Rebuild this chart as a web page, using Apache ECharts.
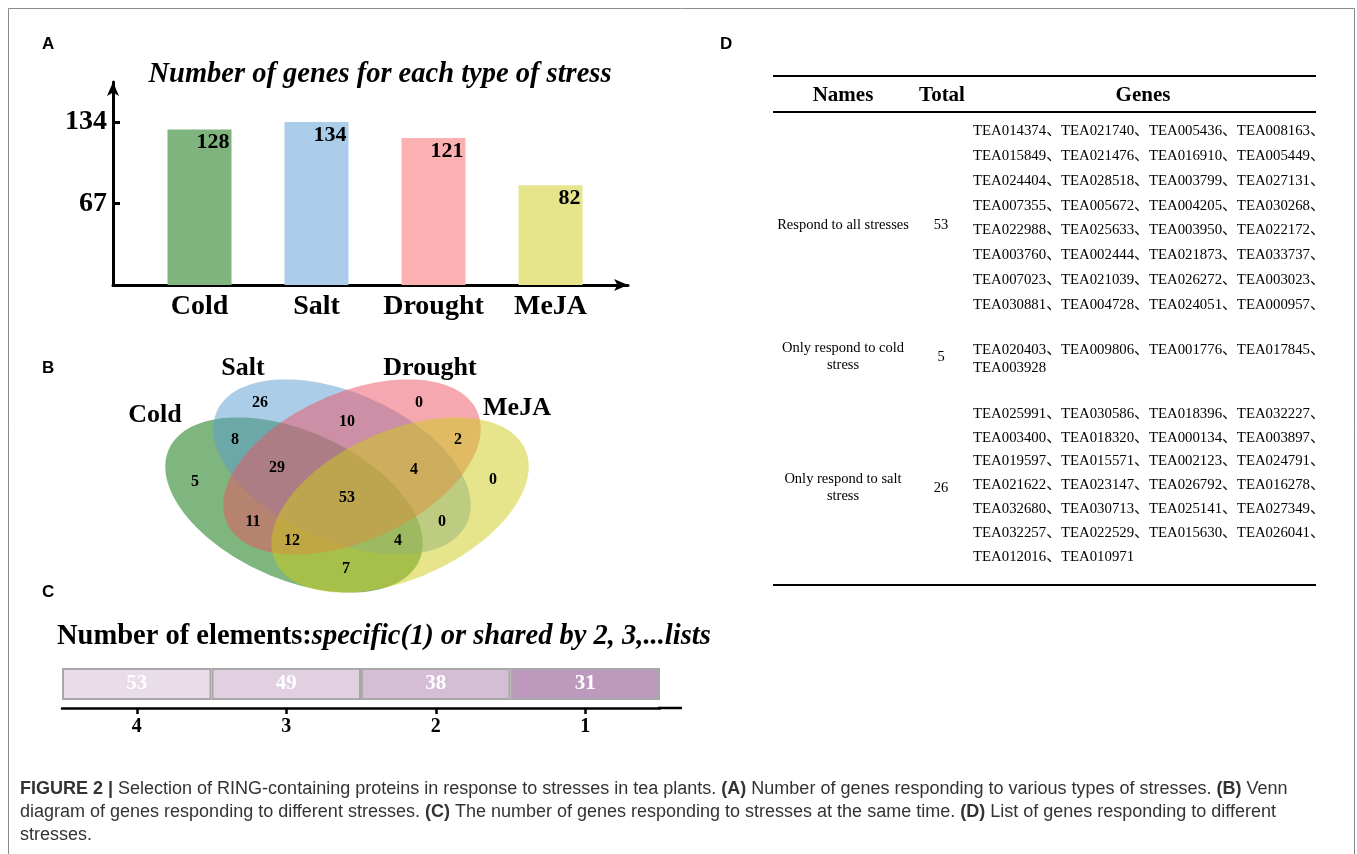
<!DOCTYPE html>
<html>
<head>
<meta charset="utf-8">
<script src="https://cdn.jsdelivr.net/npm/echarts@6/dist/echarts.min.js"></script>
<style>
  html, body { margin: 0; padding: 0; background: #fff; }
  #main { width: 1357px; height: 854px; }
</style>
</head>
<body>
<div id="main"></div>
<script>
// A: genes per stress
var stressNames = ['Cold', 'Salt', 'Drought', 'MeJA'];
var geneCounts = [128, 134, 121, 82];
var stressColors = ['#80b47e', '#abcdea', '#fdb0b1', '#e6e58b'];
var yTicks = [67, 134];

// B: venn region counts (order matches vennSpots below)
var vennLabels = ['Cold', 'Salt', 'Drought', 'MeJA'];
var vennCounts = [5, 26, 0, 0, 8, 10, 2, 29, 4, 53, 11, 0, 12, 4, 7];

// C: shared by n lists
var sharedBy = ['4', '3', '2', '1'];
var sharedCounts = [53, 49, 38, 31];
var sharedColors = ['#e9dde9', '#e0d0e0', '#d5bed5', '#bd99bd'];

// D: table
var allGenes = ['TEA014374','TEA021740','TEA005436','TEA008163','TEA015849','TEA021476','TEA016910','TEA005449',
  'TEA024404','TEA028518','TEA003799','TEA027131','TEA007355','TEA005672','TEA004205','TEA030268',
  'TEA022988','TEA025633','TEA003950','TEA022172','TEA003760','TEA002444','TEA021873','TEA033737',
  'TEA007023','TEA021039','TEA026272','TEA003023','TEA030881','TEA004728','TEA024051','TEA000957'];
var coldGenes = ['TEA020403','TEA009806','TEA001776','TEA017845','TEA003928'];
var saltGenes = ['TEA025991','TEA030586','TEA018396','TEA032227','TEA003400','TEA018320','TEA000134','TEA003897',
  'TEA019597','TEA015571','TEA002123','TEA024791','TEA021622','TEA023147','TEA026792','TEA016278',
  'TEA032680','TEA030713','TEA025141','TEA027349','TEA032257','TEA022529','TEA015630','TEA026041',
  'TEA012016','TEA010971'];
var tableRows = [
  { name: ['Respond to all stresses'], total: 53, genes: allGenes },
  { name: ['Only respond to cold', 'stress'], total: 5, genes: coldGenes },
  { name: ['Only respond to salt', 'stress'], total: 26, genes: saltGenes }
];

// layout
var SERIF = '"Liberation Serif", "Noto Sans CJK SC", serif';
var SANS = '"Liberation Sans", Arial, sans-serif';
var vennEllipses = [
  { cx: 294, cy: 505, a: 137, b: 74, deg: 24, fill: 'rgba(0,107,0,0.5)' },
  { cx: 342, cy: 467, a: 137, b: 74, deg: 24, fill: 'rgba(89,155,209,0.5)' },
  { cx: 352, cy: 467, a: 137, b: 74, deg: -24, fill: 'rgba(235,81,97,0.5)' },
  { cx: 400, cy: 505, a: 137, b: 74, deg: -24, fill: 'rgba(205,203,23,0.5)' }
];
var vennSpots = [[195,482],[260,403],[419,403],[493,480],[235,440],[347,422],[458,440],
  [277,468],[414,470],[347,498],[253,522],[442,522],[292,541],[398,541],[346,569]];
var vennLabelSpots = [[155,415],[243,368],[430,368],[517,408]];

var myChart = echarts.init(document.getElementById('main'));
var graphics = [];

function txt(x, y, text, font, extra) {
  var st = { text: text, font: font, fill: '#000', align: 'left', verticalAlign: 'middle' };
  for (var k in extra) st[k] = extra[k];
  graphics.push({ type: 'text', x: x, y: y, style: st, z: 10 });
}
function hline(x1, x2, y, w) {
  graphics.push({ type: 'line', shape: { x1: x1, y1: y, x2: x2, y2: y }, style: { stroke: '#000', lineWidth: w } });
}

// frame
graphics.push({ type: 'polyline', shape: { points: [[8.5, 854], [8.5, 8.5], [1354.5, 8.5], [1354.5, 854]] },
  style: { stroke: '#8a8a8a', lineWidth: 1, fill: null } });

// panel letters
txt(42, 44, 'A', 'bold 17px ' + SANS);
txt(42, 368, 'B', 'bold 17px ' + SANS);
txt(42, 592, 'C', 'bold 17px ' + SANS);
txt(720, 44, 'D', 'bold 17px ' + SANS);

// A title
txt(380, 75, 'Number of genes for each type of stress', 'italic bold 28.5px ' + SERIF, { align: 'center' });

// B venn
vennEllipses.forEach(function (e) {
  var pts = [], th = e.deg * Math.PI / 180;
  for (var i = 0; i < 120; i++) {
    var t = i / 120 * Math.PI * 2;
    pts.push([e.cx + e.a * Math.cos(t) * Math.cos(th) - e.b * Math.sin(t) * Math.sin(th),
              e.cy + e.a * Math.cos(t) * Math.sin(th) + e.b * Math.sin(t) * Math.cos(th)]);
  }
  graphics.push({ type: 'polygon', shape: { points: pts }, style: { fill: e.fill } });
});
vennCounts.forEach(function (v, i) {
  txt(vennSpots[i][0], vennSpots[i][1], String(v), 'bold 16px ' + SERIF, { align: 'center' });
});
vennLabels.forEach(function (s, i) {
  txt(vennLabelSpots[i][0], vennLabelSpots[i][1], s, 'bold 26px ' + SERIF, { align: 'center' });
});

// C title + axis line tail
txt(57, 637, '{n|Number of elements:}{i|specific(1) or shared by 2, 3,...lists}', 'bold 28.5px ' + SERIF, {
  rich: {
    n: { fontFamily: SERIF, fontWeight: 'bold', fontSize: 28.5, fill: '#000' },
    i: { fontFamily: SERIF, fontWeight: 'bold', fontStyle: 'italic', fontSize: 28.5, fill: '#000' }
  }
});
hline(658, 682, 708, 2.5);

// D table
hline(773, 1316, 76, 2);
hline(773, 1316, 112, 2);
hline(773, 1316, 585, 2);
txt(843, 96, 'Names', 'bold 21px ' + SERIF, { align: 'center' });
txt(942, 96, 'Total', 'bold 21px ' + SERIF, { align: 'center' });
txt(1143, 96, 'Genes', 'bold 21px ' + SERIF, { align: 'center' });

var rowStart = [131, 350, 414];
var rowGap = [24.9, 18, 23.8];
var rowMid = [225, 357, 488];
tableRows.forEach(function (r, ri) {
  var lines = [];
  for (var i = 0; i < r.genes.length; i += 4) {
    var chunk = r.genes.slice(i, i + 4).map(function (g, j) {
      var last = (i + j === r.genes.length - 1) && r.genes.length === r.total;
      return g + (last ? '' : '、');
    });
    lines.push(chunk.join(''));
  }
  lines.forEach(function (l, li) {
    txt(973, rowStart[ri] + li * rowGap[ri], l, '14.8px ' + SERIF);
  });
  var mid = rowMid[ri];
  txt(941, mid, String(r.total), '14.5px ' + SERIF, { align: 'center' });
  r.name.forEach(function (n, ni) {
    txt(843, mid - (r.name.length - 1) * 8.5 + ni * 17, n, '14.5px ' + SERIF, { align: 'center' });
  });
});

// caption
var capRich = { b: { fontFamily: SANS, fontWeight: 'bold', fontSize: 18, fill: '#333' } };
var caption = [
  '{b|FIGURE 2 |} Selection of RING-containing proteins in response to stresses in tea plants. {b|(A)} Number of genes responding to various types of stresses. {b|(B)} Venn',
  'diagram of genes responding to different stresses. {b|(C)} The number of genes responding to stresses at the same time. {b|(D)} List of genes responding to different',
  'stresses.'
];
caption.forEach(function (c, i) {
  txt(20, 789 + i * 23, c, '18px ' + SANS, { fill: '#333', rich: capRich });
});

var option = {
  animation: false,
  backgroundColor: '#fff',
  grid: [
    { left: 113, top: 82, width: 515, height: 203 },
    { left: 141, top: 82, width: 468, height: 203 },
    { left: 62, top: 669, width: 598, height: 30 }
  ],
  xAxis: [
    { gridIndex: 0, type: 'category', data: stressNames,
      axisLine: { lineStyle: { color: '#000', width: 3 }, symbol: ['none', 'arrow'], symbolSize: [9, 14] },
      axisTick: { show: false }, axisLabel: { show: false } },
    { gridIndex: 1, type: 'category', data: stressNames,
      axisLine: { show: false }, axisTick: { show: false },
      axisLabel: { interval: 0, fontFamily: SERIF, fontWeight: 'bold', fontSize: 28, color: '#000', margin: 8 } },
    { gridIndex: 2, type: 'category', data: sharedBy, position: 'bottom', offset: 9,
      axisLine: { show: true, onZero: false, lineStyle: { color: '#000', width: 2.5 } },
      axisTick: { show: true, interval: 0, alignWithLabel: true, length: 6, lineStyle: { color: '#000', width: 2.5 } },
      axisLabel: { interval: 0, fontFamily: SERIF, fontWeight: 'bold', fontSize: 20, color: '#000', margin: 9 } }
  ],
  yAxis: [
    { gridIndex: 0, type: 'value', min: 0, max: 167,
      axisLine: { show: true, lineStyle: { color: '#000', width: 3 }, symbol: ['none', 'arrow'], symbolSize: [9, 14] },
      axisTick: { show: true, inside: true, length: 7, customValues: yTicks, lineStyle: { color: '#000', width: 3 } },
      axisLabel: { customValues: yTicks, fontFamily: SERIF, fontWeight: 'bold', fontSize: 28, color: '#000', margin: 6 },
      splitLine: { show: false } },
    { gridIndex: 1, type: 'value', min: 0, max: 167, show: false },
    { gridIndex: 2, type: 'value', min: 0, max: 1, show: false }
  ],
  series: [
    { type: 'bar', xAxisIndex: 1, yAxisIndex: 1, barWidth: 64,
      data: geneCounts.map(function (v, i) { return { value: v, itemStyle: { color: stressColors[i] } }; }),
      label: { show: true, position: 'insideTopRight', distance: 2, fontFamily: SERIF, fontWeight: 'bold', fontSize: 22, color: '#000' } },
    { type: 'custom', xAxisIndex: 2, yAxisIndex: 2,
      data: sharedCounts.map(function (v, i) { return [i, v]; }),
      renderItem: function (params, api) {
        var c = api.coord([api.value(0), 0]);
        var band = api.size([1, 0])[0];
        var cs = params.coordSys;
        return {
          type: 'rect',
          shape: { x: c[0] - band / 2 + 1, y: cs.y, width: band - 2, height: cs.height },
          style: { fill: sharedColors[params.dataIndex], stroke: '#a8a8a8', lineWidth: 2 },
          textContent: { style: { text: String(api.value(1)), fill: '#fff', font: 'bold 21px ' + SERIF } },
          textConfig: { position: 'inside' }
        };
      } }
  ],
  graphic: graphics
};

myChart.setOption(option);
window.addEventListener('resize', function () { myChart.resize(); });
</script>
</body>
</html>
